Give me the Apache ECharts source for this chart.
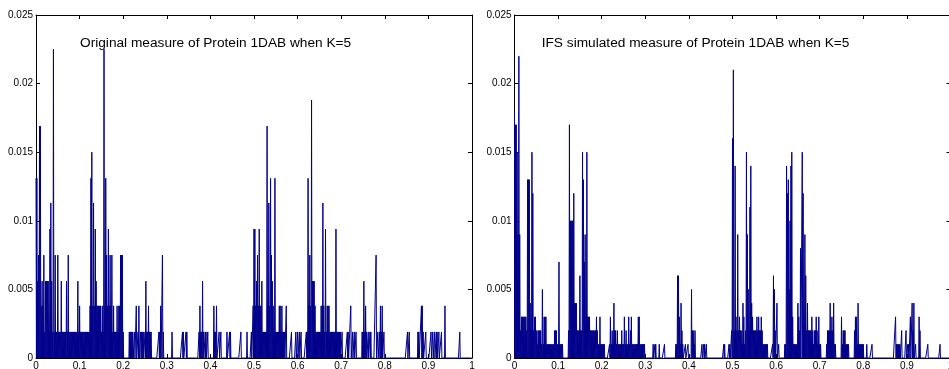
<!DOCTYPE html>
<html>
<head>
<meta charset="utf-8">
<script src="https://cdn.jsdelivr.net/npm/echarts@6/dist/echarts.min.js"></script>
<style>html,body{margin:0;padding:0;background:#fff}#c{width:949px;height:369px}</style>
</head>
<body>
<div id="c"></div>
<script>
const xTickLabels = ['0','0.1','0.2','0.3','0.4','0.5','0.6','0.7','0.8','0.9','1'];
const yTickLabels = ['0','0.005','0.01','0.015','0.02','0.025'];
const titles = ['Original measure of Protein 1DAB when K=5', 'IFS simulated measure of Protein 1DAB when K=5'];
const binWidth = 0.001;

// [x, measure] – original measure
const leftMeasure = [
[0.000,.0131],[0.002,.0131],[0.004,.0056],[0.006,.0075],[0.008,.0169],[0.010,.0169],[0.012,.0038],[0.014,.0056],
[0.016,.0038],[0.018,.0075],[0.020,.0019],[0.022,.0056],[0.024,.0056],[0.026,.0056],[0.028,.0056],[0.030,.0019],
[0.032,.0094],[0.034,.0113],[0.036,.0056],[0.038,.0019],[0.040,.0225],[0.042,.0019],[0.044,.0075],[0.046,.0019],[0.048,.0019],
[0.050,.0075],[0.052,.0019],[0.054,.0019],[0.056,.0019],[0.058,.0056],[0.060,.0019],[0.062,.0019],[0.064,.0019],[0.066,.0019],
[0.068,.0019],[0.070,.0056],[0.072,.0019],[0.074,.0075],[0.076,.0019],[0.078,.0019],[0.080,.0019],[0.082,.0019],[0.084,.0019],
[0.086,.0019],[0.088,.0019],[0.090,.0019],[0.092,.0019],[0.094,.0019],
[0.096,.0056],[0.098,.0019],[0.100,.0038],[0.102,.0019],[0.104,.0019],[0.106,.0019],[0.108,.0019],[0.110,.0019],
[0.112,.0019],[0.114,.0019],[0.116,.0019],[0.118,.0019],[0.120,.0019],
[0.122,.0019],[0.124,.0038],[0.126,.0131],[0.128,.0150],[0.130,.0038],[0.132,.0113],[0.134,.0038],[0.136,.0094],
[0.138,.0056],[0.140,.0038],[0.142,.0038],[0.144,.0038],[0.146,.0038],[0.148,.0038],[0.150,.0019],[0.152,.0038],
[0.154,.0019],[0.156,.0225],[0.158,.0038],[0.160,.0131],[0.162,.0075],[0.164,.0038],[0.166,.0094],[0.168,.0038],
[0.170,.0075],[0.172,.0038],[0.174,.0075],[0.176,.0019],[0.178,.0038],[0.180,.0019],[0.182,.0019],[0.184,.0019],
[0.186,.0038],[0.188,.0019],[0.190,.0038],[0.192,.0038],[0.194,.0075],[0.196,.0075],[0.198,.0075],[0.200,.0019],
[0.214,.0019],[0.216,.0019],[0.218,.0019],[0.220,.0019],[0.222,.0019],[0.226,.0019],[0.230,.0038],[0.234,.0019],[0.236,.0038],[0.240,.0019],
[0.242,.0019],[0.244,.0019],[0.246,.0019],[0.250,.0019],[0.252,.0056],[0.254,.0019],[0.256,.0019],[0.258,.0038],[0.260,.0019],[0.262,.0019],
[0.264,.0019],[0.282,.0019],[0.284,.0019],[0.286,.0038],[0.290,.0075],[0.292,.0019],[0.312,.0019],[0.336,.0019],
[0.338,.0019],[0.344,.0019],[0.346,.0019],[0.374,.0019],[0.376,.0038],[0.378,.0019],[0.380,.0019],[0.382,.0056],
[0.384,.0019],[0.388,.0019],[0.390,.0019],[0.394,.0019],[0.408,.0038],[0.410,.0019],[0.412,.0019],[0.414,.0038],
[0.420,.0019],[0.424,.0019],[0.438,.0019],[0.444,.0019],[0.446,.0019],[0.470,.0019],[0.484,.0019],[0.494,.0019],
[0.498,.0038],[0.500,.0094],[0.502,.0094],[0.504,.0038],[0.506,.0056],[0.508,.0075],[0.510,.0038],[0.512,.0094],
[0.514,.0038],[0.516,.0038],[0.518,.0056],[0.520,.0019],[0.522,.0019],[0.524,.0019],[0.526,.0019],[0.528,.0019],
[0.530,.0169],[0.532,.0038],[0.534,.0113],[0.536,.0038],[0.538,.0131],[0.540,.0075],[0.542,.0056],[0.544,.0038],
[0.546,.0019],[0.548,.0131],[0.550,.0019],[0.552,.0019],[0.554,.0019],[0.556,.0019],[0.558,.0038],[0.560,.0038],
[0.562,.0019],[0.564,.0038],[0.566,.0019],[0.568,.0019],[0.570,.0019],[0.574,.0038],[0.586,.0019],[0.596,.0019],[0.600,.0019],
[0.604,.0019],[0.608,.0019],[0.620,.0019],[0.622,.0019],[0.624,.0131],[0.626,.0038],[0.628,.0075],[0.630,.0038],
[0.632,.0188],[0.634,.0056],[0.636,.0056],[0.638,.0056],[0.640,.0038],[0.642,.0019],[0.644,.0019],[0.646,.0019],[0.648,.0019],
[0.650,.0019],[0.652,.0019],[0.654,.0038],[0.656,.0038],[0.658,.0113],[0.660,.0038],[0.662,.0019],[0.664,.0094],[0.666,.0019],
[0.668,.0038],[0.670,.0038],[0.672,.0038],[0.674,.0019],[0.676,.0019],[0.678,.0019],[0.680,.0019],[0.682,.0019],[0.684,.0019],[0.686,.0019],
[0.688,.0094],[0.690,.0019],[0.692,.0019],[0.694,.0019],[0.696,.0019],[0.698,.0019],[0.702,.0019],[0.714,.0019],[0.716,.0019],
[0.722,.0038],[0.726,.0019],[0.730,.0019],[0.734,.0019],[0.748,.0019],[0.750,.0019],[0.752,.0056],[0.754,.0019],
[0.756,.0038],[0.758,.0019],[0.762,.0019],[0.766,.0019],[0.768,.0019],[0.780,.0075],[0.784,.0019],[0.788,.0019],
[0.790,.0038],[0.792,.0019],[0.794,.0038],[0.798,.0019],[0.852,.0019],[0.856,.0019],[0.876,.0019],[0.878,.0019],
[0.884,.0038],[0.886,.0038],[0.888,.0019],[0.894,.0019],[0.906,.0019],[0.910,.0019],[0.914,.0019],[0.918,.0019],
[0.920,.0019],[0.924,.0019],[0.930,.0019],[0.938,.0038],[0.972,.0019]
];

// [x, measure] – IFS simulated measure
const rightMeasure = [
[0.000,.018],[0.002,.017],[0.004,.017],[0.006,.015],[0.008,.009],[0.010,.022],[0.012,.009],[0.014,.002],
[0.016,.003],[0.018,.003],[0.020,.003],[0.022,.003],[0.024,.003],[0.026,.003],[0.028,.002],[0.030,.013],
[0.032,.013],[0.034,.013],[0.036,.004],[0.038,.002],[0.040,.015],[0.042,.012],[0.044,.002],[0.046,.003],
[0.048,.003],[0.050,.002],[0.052,.001],[0.054,.002],[0.056,.002],[0.058,.002],[0.060,.002],[0.062,.001],
[0.064,.005],[0.066,.001],[0.068,.003],[0.070,.003],[0.072,.003],[0.074,.001],[0.076,.001],[0.078,.001],
[0.080,.001],[0.082,.001],[0.084,.001],[0.086,.001],[0.088,.001],[0.090,.001],[0.092,.002],[0.094,.002],
[0.096,.002],[0.098,.001],[0.100,.001],[0.102,.007],[0.104,.001],[0.106,.001],[0.108,.001],[0.110,.001],
[0.124,.002],[0.126,.017],[0.128,.010],[0.130,.010],[0.132,.010],[0.134,.010],[0.136,.012],[0.138,.004],
[0.140,.004],[0.142,.004],[0.144,.002],[0.146,.002],[0.148,.002],[0.150,.006],[0.152,.002],[0.154,.002],
[0.156,.015],[0.158,.013],[0.160,.007],[0.162,.009],[0.164,.003],[0.166,.015],[0.168,.003],[0.170,.003],
[0.172,.003],[0.174,.002],[0.176,.002],[0.178,.002],[0.180,.002],[0.182,.002],[0.184,.002],[0.186,.002],
[0.188,.003],[0.190,.002],[0.192,.001],[0.194,.001],[0.196,.003],[0.198,.001],[0.200,.001],[0.202,.001],[0.204,.001],[0.206,.001],[0.218,.001],
[0.220,.003],[0.222,.001],[0.224,.002],[0.226,.001],[0.228,.004],[0.230,.002],[0.232,.002],[0.234,.001],
[0.236,.002],[0.238,.001],[0.240,.001],[0.242,.001],[0.244,.001],[0.246,.002],[0.248,.001],[0.250,.001],[0.252,.003],[0.254,.001],
[0.256,.002],[0.258,.001],[0.260,.001],[0.262,.003],[0.264,.001],[0.266,.002],[0.268,.003],[0.270,.001],[0.272,.001],
[0.274,.001],[0.276,.001],[0.278,.001],[0.280,.001],[0.282,.001],[0.284,.003],[0.286,.003],[0.288,.001],[0.290,.001],[0.292,.001],[0.294,.001],[0.296,.001],[0.298,.001],
[0.318,.001],[0.322,.001],[0.324,.001],[0.332,.001],[0.344,.001],[0.370,.001],[0.372,.001],[0.374,.006],
[0.376,.006],[0.378,.003],[0.380,.001],[0.382,.004],[0.384,.002],[0.386,.001],[0.392,.001],[0.398,.001],
[0.406,.005],[0.408,.002],[0.410,.002],[0.412,.001],[0.414,.002],[0.430,.001],[0.434,.001],[0.436,.001],
[0.440,.001],[0.480,.001],[0.482,.001],[0.492,.001],[0.494,.001],[0.498,.002],[0.500,.016],[0.502,.021],
[0.504,.002],[0.506,.014],[0.508,.003],[0.510,.002],[0.512,.009],[0.514,.002],[0.516,.003],[0.518,.002],
[0.520,.002],[0.522,.001],[0.524,.004],[0.526,.003],[0.528,.001],[0.530,.002],[0.532,.015],[0.534,.009],
[0.536,.005],[0.538,.002],[0.540,.011],[0.542,.014],[0.544,.004],[0.546,.003],[0.548,.002],[0.550,.002],
[0.552,.002],[0.554,.002],[0.556,.003],[0.558,.002],[0.560,.003],[0.562,.002],[0.564,.002],[0.566,.003],
[0.568,.002],[0.570,.001],[0.572,.001],[0.574,.001],[0.576,.001],[0.578,.001],[0.580,.001],[0.592,.001],[0.594,.006],[0.596,.005],
[0.598,.002],[0.602,.004],[0.606,.001],[0.620,.001],[0.622,.001],[0.624,.014],[0.626,.012],[0.628,.013],
[0.630,.005],[0.632,.010],[0.634,.014],[0.636,.015],[0.638,.003],[0.640,.001],[0.642,.001],[0.644,.001],
[0.646,.001],[0.648,.001],[0.650,.004],[0.652,.003],[0.654,.002],[0.656,.008],[0.660,.015],[0.662,.012],
[0.664,.002],[0.666,.009],[0.668,.006],[0.670,.002],[0.672,.004],[0.674,.002],[0.676,.002],[0.678,.002],
[0.680,.002],[0.682,.003],[0.684,.002],[0.686,.001],[0.688,.002],[0.690,.002],[0.692,.003],[0.694,.002],
[0.696,.001],[0.698,.003],[0.700,.001],[0.702,.001],[0.716,.001],[0.718,.002],[0.720,.002],[0.722,.002],
[0.724,.004],[0.726,.002],[0.728,.003],[0.730,.002],[0.732,.004],[0.734,.001],[0.736,.001],[0.750,.003],
[0.752,.001],[0.754,.002],[0.756,.002],[0.758,.002],[0.760,.001],[0.762,.001],[0.764,.001],[0.766,.001],
[0.780,.002],[0.782,.003],[0.784,.003],[0.786,.001],[0.788,.004],[0.790,.001],[0.792,.001],[0.794,.001],
[0.796,.001],[0.798,.001],[0.800,.001],[0.808,.001],[0.820,.001],[0.874,.003],[0.876,.001],[0.878,.001],
[0.880,.001],[0.882,.001],[0.884,.001],[0.888,.002],[0.898,.002],[0.902,.001],[0.904,.001],[0.908,.003],
[0.912,.004],[0.914,.002],[0.916,.004],[0.920,.001],[0.928,.003],[0.930,.002],[0.948,.001],[0.976,.001]
];

function stepData(measure) {
  const n = Math.round(1 / binWidth);
  const v = new Array(n).fill(0);
  measure.forEach(([x, y]) => {
    const k = Math.min(n - 1, Math.round(x / binWidth));
    v[k] = Math.max(v[k], y);
  });
  const pts = [];
  for (let k = 0; k < n; k++) {
    pts.push([k * binWidth, v[k]], [(k + 1) * binWidth, v[k]]);
  }
  return pts;
}

const FONT = 'Liberation Sans, Arial, Helvetica, sans-serif';
const BLUE = '#00008b';
const grids = [
  {left: 36, top: 15, width: 436, height: 343, outerBoundsMode: 'none', containLabel: false},
  {left: 514.5, top: 15, width: 436, height: 343, outerBoundsMode: 'none', containLabel: false}
];

function xAx(g, pos) {
  return {
    type: 'value', gridIndex: g, position: pos, min: 0, max: 1, interval: 0.1,
    axisLine: {show: true, onZero: false, lineStyle: {color: '#000', width: 1}},
    axisTick: {show: true, inside: true, length: 4, lineStyle: {color: '#000', width: 1}},
    axisLabel: {show: pos === 'bottom', margin: 3, fontSize: 10, color: '#000', fontFamily: FONT,
      formatter: v => xTickLabels[Math.round(v * 10)]},
    splitLine: {show: false}
  };
}
function yAx(g, pos) {
  return {
    type: 'value', gridIndex: g, position: pos, min: 0, max: 0.025, interval: 0.005,
    axisLine: {show: true, onZero: false, lineStyle: {color: '#000', width: 1}},
    axisTick: {show: true, inside: true, length: 4, lineStyle: {color: '#000', width: 1}},
    axisLabel: {show: pos === 'left', margin: 3, fontSize: 10, color: '#000', fontFamily: FONT,
      formatter: v => yTickLabels[Math.round(v / 0.005)]},
    splitLine: {show: false}
  };
}

const chart = echarts.init(document.getElementById('c'), null, {renderer: 'canvas'});
chart.setOption({
  animation: false,
  backgroundColor: '#fff',
  grid: grids,
  xAxis: [xAx(0, 'bottom'), xAx(0, 'top'), xAx(1, 'bottom'), xAx(1, 'top')],
  yAxis: [yAx(0, 'left'), yAx(0, 'right'), yAx(1, 'left'), yAx(1, 'right')],
  graphic: [
    {type: 'text', x: 80, y: 43, style: {text: titles[0], fontSize: 13.7, fontFamily: FONT, fill: '#000', verticalAlign: 'middle', align: 'left'}},
    {type: 'text', x: 541.7, y: 43, style: {text: titles[1], fontSize: 13.7, fontFamily: FONT, fill: '#000', verticalAlign: 'middle', align: 'left'}}
  ],
  series: [
    {type: 'line', xAxisIndex: 0, yAxisIndex: 0, data: stepData(leftMeasure), showSymbol: false, symbol: 'none',
     clip: false, lineStyle: {color: BLUE, width: 1}, z: 1},
    {type: 'line', xAxisIndex: 2, yAxisIndex: 2, data: stepData(rightMeasure), showSymbol: false, symbol: 'none',
     clip: false, lineStyle: {color: BLUE, width: 1}, z: 1}
  ]
});
</script>
</body>
</html>
